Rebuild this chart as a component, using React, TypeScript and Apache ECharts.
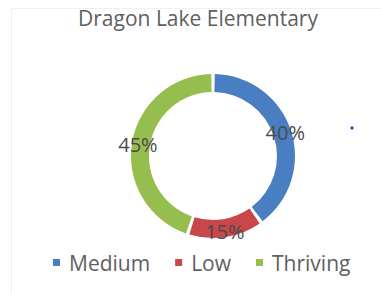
import React, { useEffect, useRef } from "react";
import * as echarts from "echarts";

const titleText = "Dragon Lake Elementary";
const categories = ["Medium", "Low", "Thriving"];
const values = [40, 15, 45];
const colors = ["#4A7EC2", "#C8474A", "#96BE4F"];

export default function App() {
  const ref = useRef<HTMLDivElement>(null);
  useEffect(() => {
    if (!ref.current) return;
    const chart = echarts.init(ref.current, undefined, { renderer: "svg" });
    const font = "'Open Sans', 'Noto Sans', sans-serif";
    chart.setOption({
      animation: false,
      backgroundColor: "#ffffff",
      color: colors,
      title: {
        text: titleText,
        left: 198,
        top: 7,
        padding: 0,
        textAlign: "center",
        textStyle: { fontFamily: font, fontSize: 21, fontWeight: "normal", color: "#606060" },
      },
      legend: {
        data: categories,
        left: 53,
        top: 252,
        padding: 0,
        itemGap: 25,
        itemWidth: 7,
        itemHeight: 7,
        icon: "rect",
        textStyle: { fontFamily: font, fontSize: 21, color: "#606060", padding: [0, 0, 0, 4] },
      },
      graphic: [
        {
          type: "rect",
          shape: { x: 11.5, y: 8.5, width: 400, height: 400 },
          style: { fill: "none", stroke: "#f0f0f0", lineWidth: 1 },
          silent: true,
        },
        {
          type: "circle",
          shape: { cx: 352, cy: 128, r: 1.6 },
          style: { fill: "#2233ee" },
          silent: true,
        },
      ],
      series: [
        {
          type: "pie",
          center: [213, 156],
          radius: [64, 82],
          startAngle: 90,
          clockwise: true,
          padAngle: 2.5,
          avoidLabelOverlap: false,
          data: categories.map((name, i) => ({ name, value: values[i] })),
          label: {
            show: true,
            position: "inside",
            formatter: "{c}%",
            fontFamily: font,
            fontSize: 20,
            color: "#4a4a4a",
          },
          labelLine: { show: false },
          emphasis: { disabled: true },
        },
      ],
    });
    return () => chart.dispose();
  }, []);
  return (
    <div
      ref={ref}
      style={{ position: "fixed", left: 0, top: 0, width: 381, height: 293 }}
    />
  );
}
